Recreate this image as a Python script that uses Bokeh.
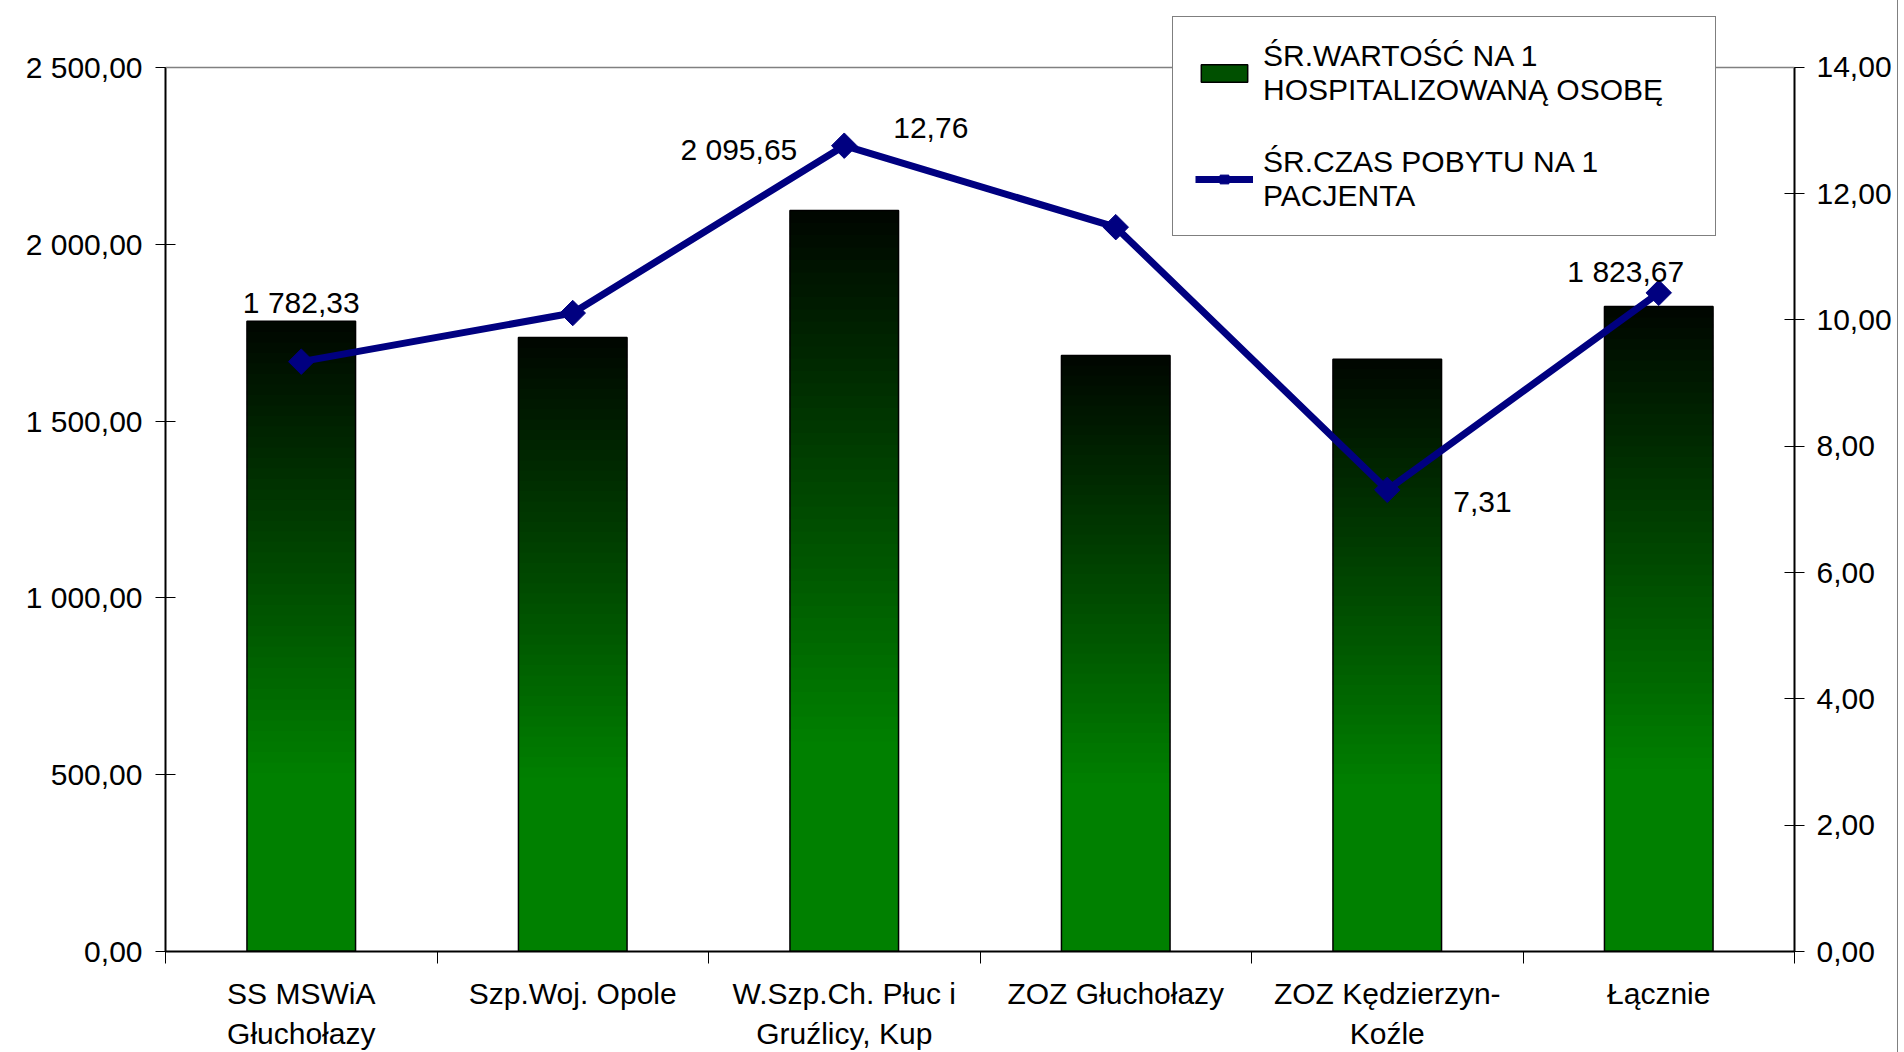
import math
from bokeh.plotting import figure
from bokeh.models import (Range1d, LinearAxis, FixedTicker, Legend, LegendItem, Span)
from bokeh.core.properties import value
from bokeh.embed import file_html
from bokeh.resources import INLINE

# ---------------- data ----------------
categories = ["SS MSWiA Głuchołazy", "Szp.Woj. Opole", "W.Szp.Ch. Płuc i Gruźlicy, Kup",
              "ZOZ Głuchołazy", "ZOZ Kędzierzyn-Koźle", "Łącznie"]
category_labels = ["SS MSWiA\nGłuchołazy", "Szp.Woj. Opole", "W.Szp.Ch. Płuc i\nGruźlicy, Kup",
                   "ZOZ Głuchołazy", "ZOZ Kędzierzyn-\nKoźle", "Łącznie"]
avg_value = [1782.33, 1736.0, 2095.65, 1685.0, 1675.0, 1823.67]   # left axis (bars)
avg_stay = [9.34, 10.11, 12.76, 11.47, 7.31, 10.43]               # right axis (line)
left_ticks = [0, 500, 1000, 1500, 2000, 2500]
right_ticks = [0, 2, 4, 6, 8, 10, 12, 14]
series_names = ["ŚR.WARTOŚĆ NA 1\nHOSPITALIZOWANĄ OSOBĘ", "ŚR.CZAS POBYTU NA 1\nPACJENTA"]

FONT = "Liberation Sans"
FS = "30px"


def fmt(v):
    return f"{v:,.2f}".replace(",", " ").replace(".", ",")


n = len(categories)
xs = [i + 0.5 for i in range(n)]

# layout (pixels): frame from top 12 to bottom 953, value axis top (2500 / 14) at 67
W, H = 1898, 1052
F_LEFT, F_RIGHT, F_TOP, F_BOTTOM, AX_TOP = 165, 1794, 12, 953, 67
left_max, right_max = left_ticks[-1], right_ticks[-1]
scale_f = (F_BOTTOM - F_TOP) / (F_BOTTOM - AX_TOP)

p = figure(width=W, height=H, x_range=Range1d(0, n),
           y_range=Range1d(0, left_max * scale_f),
           output_backend="svg", toolbar_location=None,
           x_axis_type=None, y_axis_type=None)
p.extra_y_ranges = {"right": Range1d(0, right_max * scale_f)}
p.min_border_left = F_LEFT
p.min_border_right = W - F_RIGHT
p.min_border_top = F_TOP
p.min_border_bottom = H - F_BOTTOM
p.xgrid.visible = False
p.ygrid.visible = False
p.outline_line_color = None
p.background_fill_color = "white"
p.border_fill_color = "white"
p.styles = {"border-right": "1px solid #808080"}

# ---------------- axes ----------------
yl = LinearAxis(ticker=FixedTicker(ticks=left_ticks), bounds=(0, left_max),
                major_label_overrides={t: fmt(t) for t in left_ticks})
yr = LinearAxis(y_range_name="right", ticker=FixedTicker(ticks=right_ticks),
                bounds=(0, right_max),
                major_label_overrides={t: fmt(t) for t in right_ticks})
for ax in (yl, yr):
    ax.axis_line_color = "black"
    ax.axis_line_width = 2
    ax.major_tick_in = 10
    ax.major_tick_out = 10
    ax.major_tick_line_color = "black"
    ax.major_tick_line_width = 1
    ax.minor_tick_line_color = None
    ax.major_label_text_font = FONT
    ax.major_label_text_font_size = FS
    ax.major_label_text_color = "black"
yl.major_label_standoff = 13
yr.major_label_standoff = 12
p.add_layout(yl, "left")
p.add_layout(yr, "right")

xb = LinearAxis(ticker=FixedTicker(ticks=xs, minor_ticks=list(range(n + 1))),
                major_label_overrides={x: lab for x, lab in zip(xs, category_labels)})
xb.axis_line_color = "black"
xb.axis_line_width = 2
xb.major_tick_line_color = None
xb.major_tick_in = 0
xb.major_tick_out = 0
xb.minor_tick_line_color = "black"
xb.minor_tick_line_width = 1
xb.minor_tick_in = 0
xb.minor_tick_out = 12
xb.major_label_standoff = 13
xb.major_label_text_font = FONT
xb.major_label_text_font_size = FS
xb.major_label_text_line_height = 1.22
xb.major_label_text_color = "black"
p.add_layout(xb, "below")

# top border of the plot area
p.add_layout(Span(location=left_max, dimension="width", line_color="#808080",
                  line_width=1.5))

# ---------------- gradient bars ----------------
N = 60
bx, bb, bt, bc = [], [], [], []
for x, v in zip(xs, avg_value):
    for k in range(N):
        t = 1 - (k + 0.5) / N          # 0 at top, 1 at bottom
        g = int(round(6 + 122 * min(1.0, t / 0.72)))
        bx.append(x)
        bb.append(v * k / N)
        bt.append(min(v, v * (k + 1.4) / N))
        bc.append("#00%02x00" % g)
p.vbar(x=bx, bottom=bb, top=bt, width=0.4, fill_color=bc, line_color=None)
p.vbar(x=xs, top=avg_value, width=0.4, fill_color=None, line_color="black", line_width=1.5)

# zero-height bar used only as the legend swatch
legend_bar = p.vbar(x=[xs[0]], bottom=[0], top=[0], width=0.4, fill_color="#005000",
                    line_color="black", line_width=1.5)

# ---------------- line ----------------
line_r = p.line(x=xs, y=avg_stay, y_range_name="right", line_color="#000080", line_width=7)
mark_r = p.scatter(x=xs, y=avg_stay, y_range_name="right", marker="square",
                   angle=math.pi / 4, size=18, fill_color="#000080", line_color="#000080")

# ---------------- data labels ----------------
lab_kw = dict(text_font=value(FONT), text_font_size=FS, text_color="black",
              text_baseline="alphabetic")
p.text(x=[xs[0]], y=[avg_value[0]], text=[fmt(avg_value[0])], text_align="center",
       y_offset=-19, **lab_kw)
p.text(x=[xs[2]], y=[avg_value[2]], text=[fmt(avg_value[2])], text_align="right",
       x_offset=-47, y_offset=-61, **lab_kw)
p.text(x=[xs[5]], y=[avg_value[5]], text=[fmt(avg_value[5])], text_align="center",
       x_offset=-33, y_offset=-35, **lab_kw)
p.text(x=[xs[2]], y=[avg_stay[2]], text=[fmt(avg_stay[2])], y_range_name="right",
       text_align="left", x_offset=49, y_offset=-18, **lab_kw)
p.text(x=[xs[4]], y=[avg_stay[4]], text=[fmt(avg_stay[4])], y_range_name="right",
       text_align="left", x_offset=66, y_offset=12, **lab_kw)

# ---------------- legend ----------------
LEG_LEFT, LEG_BOTTOM = 1172, 238
legend = Legend(items=[LegendItem(label=series_names[0], renderers=[legend_bar]),
                       LegendItem(label=series_names[1], renderers=[line_r, mark_r])],
                location=(LEG_LEFT - F_LEFT, F_BOTTOM - LEG_BOTTOM), orientation="vertical",
                border_line_color="black", border_line_width=1.5,
                background_fill_color="white", background_fill_alpha=1.0,
                label_text_font=FONT, label_text_font_size=FS,
                label_text_color="black", label_text_line_height=1.25,
                glyph_width=58, glyph_height=22, label_standoff=10,
                label_width=430,
                padding=22, spacing=38, margin=0)
p.add_layout(legend)

open("out.html", "w").write(file_html(p, INLINE))
